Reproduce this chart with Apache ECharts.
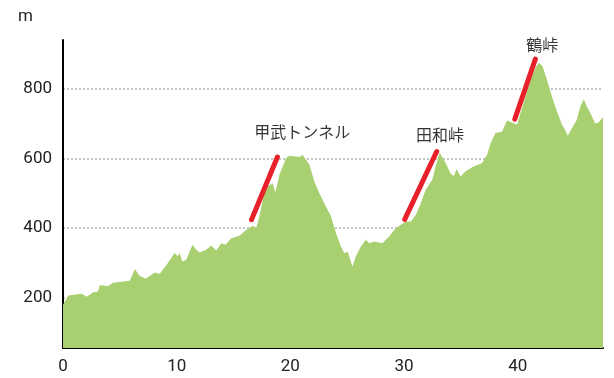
<!DOCTYPE html>
<html>
<head>
<meta charset="utf-8">
<script src="https://cdn.jsdelivr.net/npm/echarts@6/dist/echarts.min.js"></script>
<style>
  html, body { margin: 0; padding: 0; background: #fff; }
  #chart { width: 614px; height: 378px; }
</style>
</head>
<body>
<div id="chart"></div>
<script>
// elevation profile: distance (km) and height (m)
const distKm = [0, 0.46, 1.64, 2.08, 2.63, 3.07, 3.25, 3.95, 4.39, 5.88, 6.32, 6.75, 7.28, 8.07, 8.51, 9.12, 9.82, 10.09, 10.26, 10.5, 10.85, 11.38, 11.73, 12.02, 12.6, 13.04, 13.48, 13.92, 14.3, 14.8, 15.53, 16.11, 16.69, 16.99, 17.28, 17.63, 18.01, 18.45, 18.68, 19.04, 19.62, 19.91, 20.79, 21.08, 21.67, 22.11, 22.54, 23.13, 23.57, 24.01, 24.45, 24.74, 25.03, 25.46, 25.76, 26.2, 26.64, 26.93, 27.37, 28.1, 28.68, 29.27, 30.15, 30.59, 31.03, 31.46, 31.9, 32.48, 32.78, 33.13, 33.66, 34.1, 34.39, 34.62, 34.97, 35.41, 35.99, 36.87, 37.31, 37.61, 38.04, 38.62, 39.06, 39.5, 39.94, 40.24, 40.68, 41.25, 41.61, 41.9, 42.19, 42.57, 43.01, 43.45, 43.89, 44.18, 44.41, 44.76, 45.2, 45.5, 45.82, 46.08, 46.52, 46.82, 47.11, 47.5];
const heightM = [180, 207, 212, 203, 215, 218, 237, 233, 243, 249, 283, 263, 255, 273, 269, 295, 329, 319, 329, 304, 309, 352, 338, 330, 338, 350, 336, 357, 352, 371, 378, 395, 407, 400, 434, 491, 520, 529, 502, 553, 601, 608, 604, 610, 582, 534, 501, 462, 434, 386, 347, 328, 333, 290, 319, 347, 367, 357, 362, 357, 376, 400, 419, 419, 438, 470, 510, 539, 577, 617, 587, 556, 550, 570, 548, 563, 575, 587, 611, 644, 673, 677, 709, 703, 697, 730, 778, 835, 864, 875, 864, 826, 778, 735, 697, 682, 665, 687, 711, 749, 770, 749, 721, 700, 703, 719];

// climb markers (start/end of each red stroke)
const climbStart = [[16.58, 424], [30.06, 425], [39.74, 713]];
const climbEnd = [[18.86, 604], [32.87, 620], [41.55, 885]];

// pass names and where their text sits
const passNames = ['甲武トンネル', '田和峠', '鶴峠'];
const passLabelPos = [[21.05, 677], [33.16, 668], [42.15, 925]];

const yTicks = [200, 400, 600, 800];
const xTicks = [0, 10, 20, 30, 40];

const profile = distKm.map((d, i) => [d, heightM[i]]);

const climbSeries = climbStart.map((s, i) => ({
    type: 'line',
    data: [s, climbEnd[i]],
    showSymbol: false,
    silent: true,
    z: 5,
    lineStyle: { color: '#e8202a', width: 5, cap: 'round' }
}));

const chart = echarts.init(document.getElementById('chart'));
const option = {
    animation: false,
    grid: { left: 63, right: 11, top: 40, bottom: 30 },
    xAxis: {
        type: 'value',
        min: 0,
        max: 47.5,
        interval: 10,
        axisLine: { lineStyle: { color: '#000', width: 2 } },
        axisTick: { show: false },
        splitLine: { show: false },
        axisLabel: {
            showMaxLabel: false,
            color: '#222',
            fontFamily: 'Roboto',
            fontSize: 17,
            margin: 10,
            formatter: v => xTicks.includes(v) ? String(v) : ''
        }
    },
    yAxis: {
        type: 'value',
        min: 56,
        max: 940,
        name: 'm',
        nameLocation: 'end',
        nameGap: 15,
        nameTextStyle: { color: '#222', fontFamily: 'Roboto', fontSize: 17, align: 'right', padding: [0, 30, 0, 0] },
        axisLine: { show: true, lineStyle: { color: '#000', width: 2 } },
        axisTick: { show: false },
        splitLine: {
            lineStyle: { color: ['transparent', '#c4c4c4', '#c4c4c4', '#c4c4c4', '#c4c4c4', 'transparent'], type: 'dotted', width: 2 }
        },
        axisLabel: {
            showMinLabel: false,
            showMaxLabel: false,
            color: '#222',
            fontFamily: 'Roboto',
            fontSize: 17,
            margin: 11,
            formatter: v => yTicks.includes(v) ? String(v) : ''
        }
    },
    series: [
        {
            type: 'line',
            data: profile,
            showSymbol: false,
            silent: true,
            lineStyle: { width: 0 },
            areaStyle: { color: '#a8cf70', opacity: 1, origin: 'start' }
        },
        ...climbSeries,
        {
            type: 'scatter',
            symbolSize: 0,
            silent: true,
            z: 6,
            data: passNames.map((n, i) => ({ name: n, value: passLabelPos[i] })),
            label: {
                show: true,
                position: 'inside',
                formatter: '{b}',
                color: '#000',
                fontFamily: 'Noto Sans CJK JP',
                fontSize: 16
            }
        }
    ]
};
chart.setOption(option);
</script>
</body>
</html>
